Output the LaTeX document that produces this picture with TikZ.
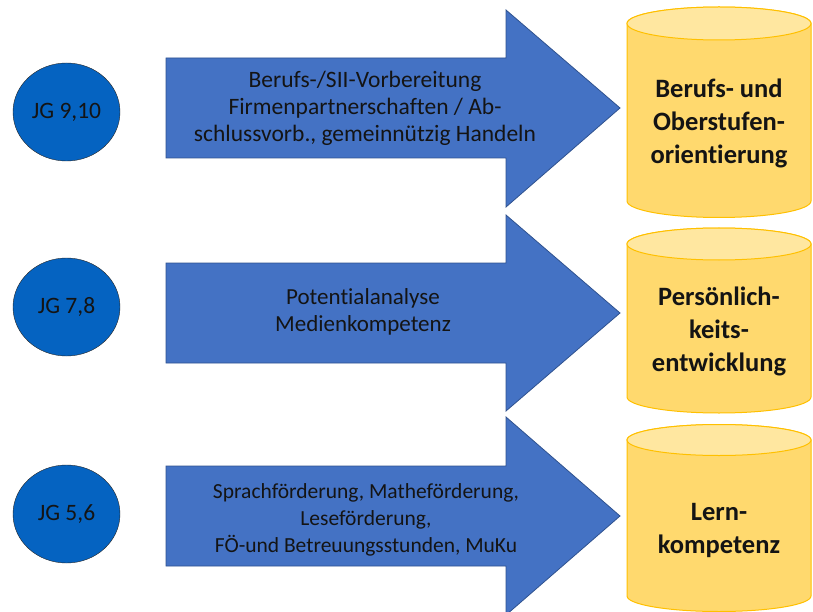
\documentclass[tikz,border=0pt]{standalone}
\usepackage{fontspec}
\setmainfont{Carlito}[RawFeature=-liga]
\usetikzlibrary{shapes.geometric}
\definecolor{jgblue}{RGB}{5,99,193}
\definecolor{arrowblue}{RGB}{68,114,196}
\definecolor{arrowline}{RGB}{47,82,143}
\definecolor{cylbody}{RGB}{255,217,110}
\definecolor{cyltop}{RGB}{255,231,160}
\definecolor{cylline}{RGB}{255,192,0}
\definecolor{ink}{RGB}{20,20,20}
\begin{document}
\begin{tikzpicture}[x=1pt,y=1pt,
  jg/.style={ellipse,draw=black!85,fill=jgblue,minimum width=107,minimum height=98,inner sep=0,text=ink,font=\fontsize{23.5}{28}\selectfont},
  bigarrow/.style={draw=arrowline,fill=arrowblue,line width=.8},
  arrowtext/.style={align=center,text=ink,inner sep=0},
  barrel/.style={draw=cylline,fill=cylbody,line width=1},
  barreltext/.style={align=center,text=ink,inner sep=0,font=\fontsize{26.5}{33}\selectfont\bfseries}]
\useasboundingbox (0,0) rectangle (813,-612);

% Jahrgaenge
\node[jg] (jg910) at (66.5,-112){JG 9,10};
\node[jg] (jg78) at (66.5,-307){JG 7,8};
\node[jg] (jg56) at (66.5,-514){JG 5,6};

% Pfeile
\draw[bigarrow](166,-58)--(506,-58)--(506,-10)--(620,-108)--(506,-207)--(506,-158)--(166,-158)--cycle;
\draw[bigarrow](166,-263)--(506,-263)--(506,-215)--(620,-313)--(506,-411)--(506,-363)--(166,-363)--cycle;
\draw[bigarrow](166,-466)--(506,-466)--(506,-417)--(620,-516)--(506,-615)--(506,-566)--(166,-566)--cycle;
\node[arrowtext,font=\fontsize{23.5}{27}\selectfont] (inhalt910) at (365,-108){Berufs-/SII-Vorbereitung\\Firmenpartnerschaften / Ab-\\schlussvorb., gemeinnützig Handeln};
\node[arrowtext,font=\fontsize{23}{27}\selectfont] (inhalt78) at (363,-312){Potentialanalyse\\Medienkompetenz};
\node[arrowtext,font=\fontsize{21.5}{27}\selectfont] (inhalt56) at (366,-520){Sprachförderung, Matheförderung,\\Leseförderung,\\FÖ-und Betreuungsstunden, MuKu};

% Tonnen
\draw[barrel](627,-23.5)--(627,-201)arc(180:360:92 and 16.5)--(811,-23.5)arc(0:180:92 and 16.5)--cycle;
\draw[barrel,fill=cyltop](719,-23.5)ellipse(92 and 16.5);
\draw[barrel](627,-244)--(627,-397)arc(180:360:92 and 16)--(811,-244)arc(0:180:92 and 16)--cycle;
\draw[barrel,fill=cyltop](719,-244)ellipse(92 and 16);
\draw[barrel](627,-440)--(627,-596)arc(180:360:92 and 15.5)--(811,-440)arc(0:180:92 and 15.5)--cycle;
\draw[barrel,fill=cyltop](719,-440)ellipse(92 and 15.5);
\node[barreltext] (ziel910) at (719,-123){Berufs- und\\Oberstufen-\\orientierung};
\node[barreltext] (ziel78) at (719,-331){Persönlich-\\keits-\\entwicklung};
\node[barreltext] (ziel56) at (719,-530){Lern-\\kompetenz};
\end{tikzpicture}
\end{document}
